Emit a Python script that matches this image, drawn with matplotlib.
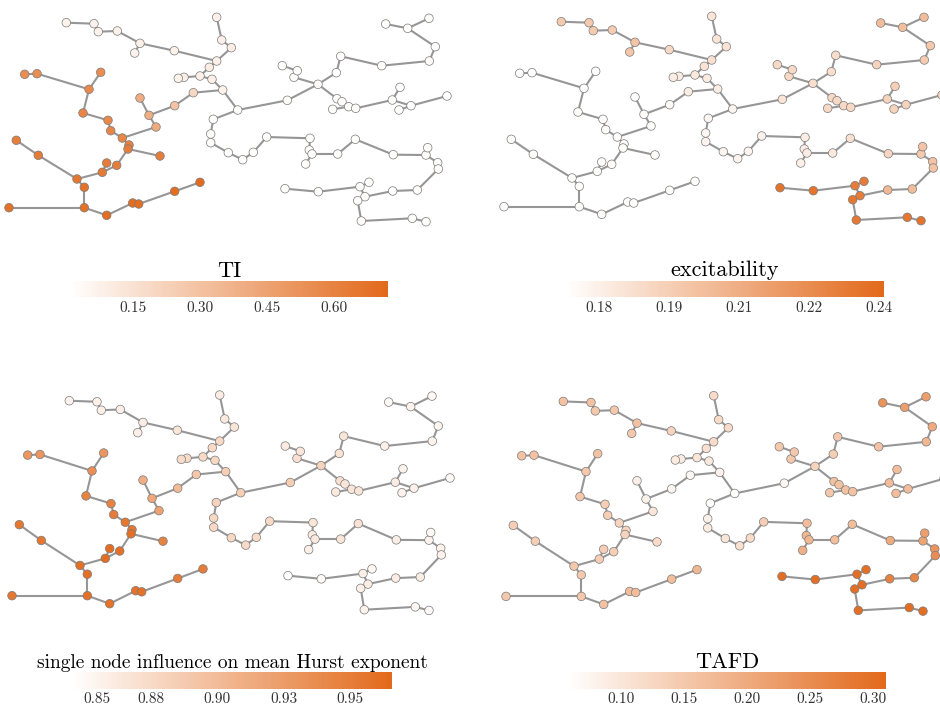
import numpy as np
import matplotlib
matplotlib.use("Agg")
import matplotlib.pyplot as plt
from matplotlib.collections import LineCollection
from matplotlib.colors import LinearSegmentedColormap, Normalize
from matplotlib.cm import ScalarMappable

plt.rcParams["font.family"] = "serif"
plt.rcParams["font.serif"] = ["cmr10"]
plt.rcParams["mathtext.fontset"] = "cm"
plt.rcParams["axes.formatter.use_mathtext"] = True

# node layout (same for every panel), x to the right, y downwards
node_x = [66.3, 94.0, 98.3, 117.3, 140.0, 134.7, 174.3, 216.7, 216.7, 221.7,
          231.3, 209.3, 200.0, 184.0, 178.3, 212.0, 222.7, 237.7, 213.3, 210.7,
          210.7, 228.3, 242.7, 193.3, 174.7, 149.0, 140.0, 156.0, 122.3, 110.7,
          108.0, 83.0, 89.0, 100.7, 37.0, 24.7, 129.0, 128.0, 160.0, 116.7,
          106.7, 102.3, 77.0, 38.3, 16.3, 84.3, 84.3, 9.0, 106.7, 132.7,
          138.7, 174.7, 200.0, 253.3, 266.7, 310.0, 309.3, 312.0, 305.7, 337.7,
          355.3, 393.3, 426.0, 427.7, 437.7, 438.3, 417.3, 392.7, 365.0, 360.0,
          369.0, 357.7, 361.3, 412.3, 426.0, 285.0, 318.3, 287.3, 318.0, 294.0,
          297.3, 282.3, 336.3, 340.7, 381.7, 429.3, 435.3, 407.7, 385.7, 429.0,
          337.0, 342.0, 332.7, 348.7, 355.7, 392.3, 400.0, 399.0, 411.0, 447.0]
node_y = [22.7, 23.7, 31.7, 31.0, 43.3, 53.0, 50.7, 61.0, 17.3, 40.0,
          47.7, 67.3, 76.0, 77.3, 78.3, 79.3, 90.0, 110.0, 119.3, 134.0,
          142.7, 152.7, 159.7, 92.7, 105.7, 115.3, 98.0, 127.0, 138.0, 130.7,
          120.3, 113.0, 89.3, 72.3, 73.7, 74.3, 145.0, 149.0, 156.0, 165.3,
          163.0, 172.3, 179.0, 155.3, 140.3, 187.3, 207.7, 207.7, 215.3, 203.0,
          204.0, 191.3, 182.3, 152.3, 137.0, 138.3, 150.0, 154.0, 164.0, 154.0,
          139.3, 154.7, 155.0, 147.7, 162.7, 169.0, 190.0, 191.0, 196.7, 186.7,
          182.3, 200.7, 221.0, 218.3, 221.7, 188.7, 191.7, 100.3, 84.3, 77.3,
          70.7, 65.7, 72.7, 56.3, 65.7, 61.0, 46.7, 28.3, 24.0, 18.3,
          98.7, 101.7, 109.3, 106.7, 108.3, 100.0, 87.3, 110.0, 105.7, 96.0]

edges = [(0, 1), (1, 2), (2, 3), (3, 4), (4, 5), (4, 6), (6, 7), (8, 9), (9, 10), (10, 7),
         (7, 11), (11, 12), (12, 13), (13, 14), (12, 15), (15, 16), (16, 23), (16, 17),
         (17, 18), (18, 19), (19, 20), (20, 21), (21, 22), (22, 53), (53, 54), (54, 55),
         (55, 56), (56, 57), (57, 58), (57, 59), (59, 60), (60, 61), (61, 62), (62, 63),
         (62, 64), (64, 65), (65, 66), (66, 67), (67, 68), (68, 69), (69, 70), (69, 76),
         (76, 75), (68, 71), (71, 72), (72, 73), (73, 74),
         (17, 77), (77, 78), (78, 79), (79, 80), (80, 81), (78, 82), (82, 83), (83, 84),
         (84, 85), (85, 86), (86, 87), (87, 88), (87, 89), (78, 90), (90, 91), (91, 93),
         (92, 93), (93, 94), (94, 95), (95, 96), (95, 98), (97, 98), (98, 99),
         (23, 24), (24, 25), (25, 26), (25, 27), (27, 28), (28, 29), (29, 30), (30, 31),
         (31, 32), (32, 33), (32, 34), (34, 35), (28, 36), (36, 37), (37, 38), (37, 39),
         (39, 41), (40, 41), (41, 42), (42, 43), (43, 44), (42, 45), (45, 46), (46, 47),
         (46, 48), (48, 49), (49, 50), (50, 51), (51, 52)]

ti = [0.07, 0.07, 0.07, 0.07, 0.08, 0.07, 0.07, 0.08, 0.08, 0.08,
      0.09, 0.09, 0.08, 0.08, 0.07, 0.08, 0.07, 0.02, 0.02, 0.02,
      0.02, 0.02, 0.02, 0.20, 0.30, 0.40, 0.40, 0.42, 0.58, 0.58,
      0.57, 0.58, 0.57, 0.55, 0.55, 0.55, 0.60, 0.62, 0.62, 0.62,
      0.63, 0.64, 0.65, 0.64, 0.62, 0.68, 0.68, 0.68, 0.70, 0.70,
      0.70, 0.70, 0.71] + [0.015] * 47

excitability = [0.197, 0.197, 0.197, 0.196, 0.200, 0.199, 0.190, 0.187, 0.185, 0.185,
                0.186, 0.186, 0.183, 0.182, 0.181, 0.182, 0.181, 0.178, 0.177, 0.177,
                0.178, 0.178, 0.178, 0.181, 0.176, 0.175, 0.174, 0.174, 0.174, 0.174,
                0.174, 0.174, 0.174, 0.174, 0.174, 0.174, 0.174, 0.174, 0.174, 0.174,
                0.174, 0.174, 0.174, 0.174, 0.174, 0.174, 0.174, 0.174, 0.174, 0.174,
                0.174, 0.174, 0.174, 0.178, 0.179, 0.181, 0.181, 0.181, 0.180, 0.183,
                0.187, 0.192, 0.197, 0.200, 0.200, 0.200, 0.203, 0.205, 0.232, 0.232,
                0.232, 0.234, 0.234, 0.235, 0.236, 0.236, 0.236, 0.185, 0.188, 0.190,
                0.190, 0.190, 0.188, 0.188, 0.193, 0.196, 0.198, 0.202, 0.203, 0.203,
                0.190, 0.190, 0.190, 0.190, 0.190, 0.193, 0.195, 0.193, 0.193, 0.195]

hurst = [0.855, 0.857, 0.857, 0.858, 0.860, 0.858, 0.865, 0.875, 0.860, 0.863,
         0.865, 0.875, 0.875, 0.873, 0.873, 0.877, 0.885, 0.885, 0.880, 0.877,
         0.877, 0.877, 0.875, 0.890, 0.900, 0.915, 0.910, 0.920, 0.955, 0.950,
         0.945, 0.945, 0.935, 0.930, 0.930, 0.930, 0.955, 0.960, 0.945, 0.960,
         0.962, 0.962, 0.960, 0.955, 0.955, 0.960, 0.960, 0.955, 0.958, 0.958,
         0.958, 0.950, 0.950, 0.873, 0.875, 0.865, 0.862, 0.862, 0.857, 0.865,
         0.868, 0.860, 0.855, 0.850, 0.855, 0.855, 0.860, 0.860, 0.860, 0.857,
         0.853, 0.857, 0.855, 0.852, 0.850, 0.845, 0.850, 0.885, 0.880, 0.870,
         0.865, 0.862, 0.867, 0.865, 0.857, 0.855, 0.853, 0.855, 0.850, 0.850,
         0.870, 0.865, 0.863, 0.865, 0.865, 0.860, 0.855, 0.855, 0.857, 0.850]

tafd = [0.16, 0.16, 0.15, 0.15, 0.16, 0.15, 0.13, 0.12, 0.12, 0.12,
        0.12, 0.11, 0.10, 0.09, 0.09, 0.095, 0.08, 0.06, 0.062, 0.08,
        0.09, 0.10, 0.11, 0.07, 0.075, 0.08, 0.085, 0.10, 0.13, 0.14,
        0.14, 0.15, 0.15, 0.16, 0.16, 0.16, 0.13, 0.13, 0.12, 0.14,
        0.14, 0.14, 0.15, 0.14, 0.14, 0.15, 0.15, 0.15, 0.16, 0.17,
        0.17, 0.17, 0.18, 0.12, 0.14, 0.17, 0.18, 0.18, 0.19, 0.17,
        0.17, 0.20, 0.21, 0.22, 0.24, 0.25, 0.26, 0.27, 0.30, 0.30,
        0.30, 0.30, 0.30, 0.30, 0.30, 0.30, 0.30, 0.07, 0.13, 0.15,
        0.15, 0.15, 0.14, 0.15, 0.16, 0.18, 0.20, 0.22, 0.24, 0.22,
        0.16, 0.16, 0.15, 0.16, 0.16, 0.17, 0.17, 0.17, 0.17, 0.17]

labels = ["TI", "excitability", "single node influence on mean Hurst exponent", "TAFD"]
label_sizes = [16, 16, 14, 16]
value_sets = [ti, excitability, hurst, tafd]
ranges = [(0.009, 0.721), (0.173, 0.241), (0.845, 0.966), (0.058, 0.31)]
tick_values = [[0.15, 0.30, 0.45, 0.60],
               [0.18, 0.195, 0.21, 0.225, 0.24],
               [0.8545, 0.875, 0.90, 0.925, 0.95],
               [0.10, 0.15, 0.20, 0.25, 0.30]]
tick_labels = [["0.15", "0.30", "0.45", "0.60"],
               ["0.18", "0.19", "0.21", "0.22", "0.24"],
               ["0.85", "0.88", "0.90", "0.93", "0.95"],
               ["0.10", "0.15", "0.20", "0.25", "0.30"]]

W, H = 940, 707
# pixel boxes: graph (x0, y0, x1, y1) and colorbar (x0, y0, x1, y1)
graph_boxes = [(0, 0, 460, 230), (495, -1, 955, 229),
               (3, 376.8, 463, 619.2), (497, 377.5, 957, 619.9)]
cbar_boxes = [(70, 281, 388, 297.5), (566, 280.5, 884, 297),
              (72, 672, 392, 688.5), (568, 672, 886, 688.5)]

cmap = LinearSegmentedColormap.from_list("white_orange", ["#ffffff", "#e2691b"])


def px_axes(fig, box):
    x0, y0, x1, y1 = box
    return fig.add_axes([x0 / W, 1 - y1 / H, (x1 - x0) / W, (y1 - y0) / H])


fig = plt.figure(figsize=(W / 100, H / 100), dpi=100)

segments = [[(node_x[a], node_y[a]), (node_x[b], node_y[b])] for a, b in edges]

for i in range(4):
    ax = px_axes(fig, graph_boxes[i])
    ax.set_xlim(0, 460)
    ax.set_ylim(230, 0)
    ax.axis("off")
    norm = Normalize(*ranges[i])

    ax.add_collection(LineCollection(segments, colors="#969696", linewidths=1.5, zorder=1))
    ax.scatter(node_x, node_y, c=value_sets[i], cmap=cmap, norm=norm, s=38,
               edgecolors="#7a7a7a", linewidths=0.5, zorder=2, clip_on=False)

    cax = px_axes(fig, cbar_boxes[i])
    cb = fig.colorbar(ScalarMappable(norm=norm, cmap=cmap), cax=cax, orientation="horizontal")
    cb.outline.set_visible(False)
    cb.set_ticks(tick_values[i], labels=tick_labels[i])
    cax.tick_params(length=0, pad=3, labelsize=11, colors="#333333")
    cax.set_title(labels[i], fontsize=label_sizes[i], pad=3)

fig.savefig("out.png", dpi=100)
